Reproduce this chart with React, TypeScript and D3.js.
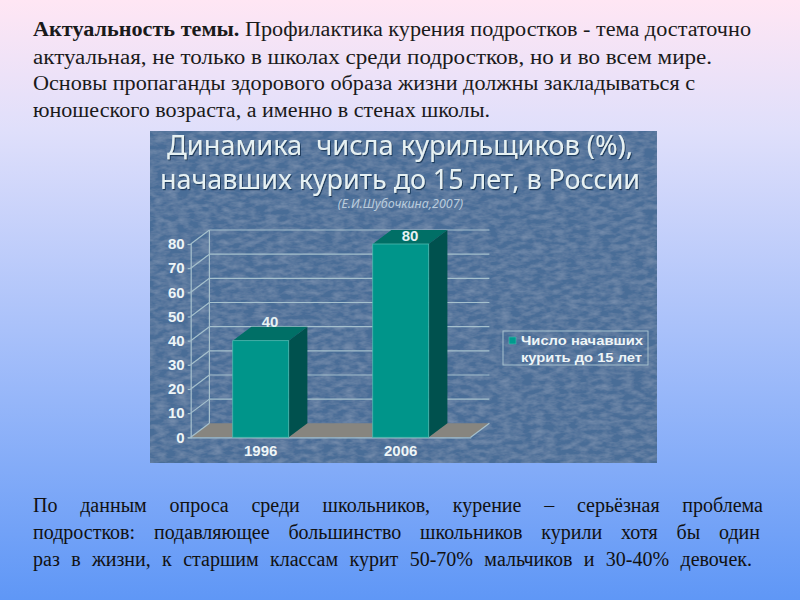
import React, { useEffect, useRef } from 'react';
import * as d3 from 'd3';

const years = ['1996', '2006'];
const smokers = [40, 80];
const yTicks = [0, 10, 20, 30, 40, 50, 60, 70, 80];

const titleLines = ['Динамика  числа курильщиков (%),', 'начавших курить до 15 лет, в России'];
const subtitle = '(Е.И.Шубочкина,2007)';
const legendLines = ['Число начавших', 'курить до 15 лет'];

const topBold = 'Актуальность темы.';
const topLines = [
  ' Профилактика курения подростков - тема достаточно',
  'актуальная, не только в школах среди подростков, но и во всем мире.',
  'Основы пропаганды здорового образа жизни должны закладываться с',
  'юношеского возраста, а именно в стенах школы.',
];
const bottomLines = [
  'По данным опроса среди школьников, курение – серьёзная проблема',
  'подростков: подавляющее большинство школьников курили хотя бы один',
  'раз в жизни, к старшим классам курит 50-70% мальчиков и 30-40% девочек.',
];

const topEnds = [751, 712, 695, 490];
const bottomEnds = [763, 760, 752];

export default function App() {
  const svgRef = useRef<SVGSVGElement>(null);

  useEffect(() => {
    if (!svgRef.current) return;
    const root = d3.select(svgRef.current);
    root.selectAll('*').remove();

    const defs = root.append('defs');
    const bg = defs.append('linearGradient').attr('id', 'bg').attr('x1', 0).attr('y1', 0).attr('x2', 0).attr('y2', 1);
    bg.append('stop').attr('offset', '0%').attr('stop-color', '#ffe6f4');
    bg.append('stop').attr('offset', '22%').attr('stop-color', '#dfdffb');
    bg.append('stop').attr('offset', '55%').attr('stop-color', '#a9c1fa');
    bg.append('stop').attr('offset', '100%').attr('stop-color', '#5f97f6');

    // Faint paper texture for the picture panel
    const texture = defs.append('filter').attr('id', 'texture').attr('x', 0).attr('y', 0).attr('width', 1).attr('height', 1);
    texture.append('feTurbulence').attr('type', 'fractalNoise').attr('baseFrequency', '0.09 0.2').attr('numOctaves', 3).attr('seed', 4).attr('result', 'n');
    texture.append('feColorMatrix').attr('in', 'n').attr('type', 'matrix')
      .attr('values', '0 0 0 0 0.6  0 0 0 0 0.7  0 0 0 0 0.82  0.35 0 0 0 -0.12').attr('result', 'c');
    texture.append('feComposite').attr('in', 'c').attr('in2', 'SourceGraphic').attr('operator', 'over');

    const shadow = defs.append('filter').attr('id', 'shadow').attr('x', '-5%').attr('y', '-20%').attr('width', '110%').attr('height', '140%');
    shadow.append('feDropShadow').attr('dx', 1).attr('dy', 1.2).attr('stdDeviation', 0.5).attr('flood-color', '#1c3a5c');

    root.append('rect').attr('width', 800).attr('height', 600).attr('fill', 'url(#bg)');

    // Slide text
    const serif = '"Liberation Serif", serif';
    const topBaselines = [36, 64, 90, 117];
    const bottomBaselines = [512, 539, 566];

    const line1 = root.append('text').attr('x', 33).attr('y', topBaselines[0])
      .attr('font-family', serif).attr('font-size', 20.5).attr('fill', '#1a1a1a');
    line1.append('tspan').attr('font-weight', 'bold').text(topBold);
    line1.append('tspan').attr('xml:space', 'preserve').text(topLines[0]);
    line1.attr('textLength', topEnds[0] - 33).attr('lengthAdjust', 'spacingAndGlyphs');

    topLines.slice(1).forEach((t, i) => {
      root.append('text').attr('x', 33).attr('y', topBaselines[i + 1])
        .attr('font-family', serif).attr('font-size', 20.5).attr('fill', '#1a1a1a')
        .attr('textLength', topEnds[i + 1] - 33).attr('lengthAdjust', 'spacingAndGlyphs')
        .text(t);
    });

    bottomLines.forEach((t, i) => {
      const line = root.append('text').attr('x', 33).attr('y', bottomBaselines[i])
        .attr('font-family', serif).attr('font-size', 20).attr('fill', '#111')
        .text(t);
      // justified: push the spare width into the word gaps
      const gaps = t.split(' ').length - 1;
      const used = (line.node() as SVGTextElement).getComputedTextLength();
      line.attr('word-spacing', (bottomEnds[i] - 33 - used) / gaps);
    });

    // Picture panel
    const panel = root.append('g');
    panel.append('rect').attr('x', 150).attr('y', 131).attr('width', 507).attr('height', 332)
      .attr('fill', '#4a6d97').attr('filter', 'url(#texture)');

    const sans = '"Noto Sans", "Open Sans", sans-serif';
    const titleBox = [
      { x: 167, w: 466, y: 155 },
      { x: 160, w: 480, y: 189 },
    ];
    titleLines.forEach((t, i) => {
      panel.append('text').attr('x', titleBox[i].x).attr('y', titleBox[i].y)
        .attr('font-family', sans).attr('font-size', 27).attr('fill', '#e6f1f3')
        .attr('filter', 'url(#shadow)')
        .attr('xml:space', 'preserve')
        .attr('textLength', titleBox[i].w).attr('lengthAdjust', 'spacingAndGlyphs')
        .text(t);
    });
    panel.append('text').attr('x', 400.5).attr('y', 208).attr('text-anchor', 'middle')
      .attr('font-family', sans).attr('font-style', 'italic').attr('font-size', 12.5)
      .attr('fill', '#b9cbdc').text(subtitle);

    // Chart
    const x0 = 190.7, x1 = 470.7;
    const depthX = 18.7, depthY = 14;
    const x = d3.scaleBand<string>().domain(years).range([x0, x1]).paddingInner(0.6).paddingOuter(0.3);
    const y = d3.scaleLinear().domain([0, 80]).range([437.3, 244]);
    const gridColor = '#a5c0cd';

    const chart = panel.append('g');
    const poly = (pts: number[][]) => pts.map(p => p.join(',')).join(' ');

    chart.append('polygon')
      .attr('points', poly([[x0, y(0)], [x1, y(0)], [x1 + depthX, y(0) - depthY], [x0 + depthX, y(0) - depthY]]))
      .attr('fill', '#87857f');

    chart.selectAll('.back').data(yTicks.slice(1)).enter().append('line').attr('class', 'back')
      .attr('x1', x0 + depthX).attr('x2', x1 + depthX)
      .attr('y1', d => y(d) - depthY).attr('y2', d => y(d) - depthY)
      .attr('stroke', gridColor).attr('stroke-width', 1.2);
    chart.selectAll('.wall').data(yTicks).enter().append('line').attr('class', 'wall')
      .attr('x1', x0).attr('x2', x0 + depthX)
      .attr('y1', d => y(d)).attr('y2', d => y(d) - depthY)
      .attr('stroke', gridColor).attr('stroke-width', 1.2);
    chart.append('line').attr('x1', x0 + depthX).attr('x2', x0 + depthX)
      .attr('y1', y(0) - depthY).attr('y2', y(80) - depthY).attr('stroke', gridColor).attr('stroke-width', 1.2);
    chart.append('line').attr('x1', x1).attr('x2', x1 + depthX)
      .attr('y1', y(0)).attr('y2', y(0) - depthY).attr('stroke', gridColor).attr('stroke-width', 1.2);

    // Axes
    const yAxis = chart.append('g').attr('transform', `translate(${x0},0)`)
      .call(d3.axisLeft(y).tickValues(yTicks).tickSize(3).tickPadding(3).tickFormat(d3.format('d')));
    yAxis.selectAll('line, path').attr('stroke', gridColor).attr('stroke-width', 1.2);
    yAxis.selectAll('text').attr('font-family', '"Liberation Sans", sans-serif')
      .attr('font-weight', 'bold').attr('font-size', 15).attr('fill', '#eef5f7');

    const xAxis = chart.append('g').attr('transform', `translate(0,${y(0)})`)
      .call(d3.axisBottom(x).tickSize(0).tickPadding(8));
    xAxis.select('path').attr('stroke', gridColor).attr('stroke-width', 1.2);
    xAxis.selectAll('text').attr('font-family', '"Liberation Sans", sans-serif')
      .attr('font-weight', 'bold').attr('font-size', 15).attr('fill', '#eef5f7');

    // 3D bars
    const bars = chart.selectAll('.bar').data(smokers).enter().append('g').attr('class', 'bar');
    const bx = (i: number) => x(years[i]) as number;
    const bw = x.bandwidth();
    bars.append('polygon')
      .attr('points', (d, i) => poly([[bx(i), y(d)], [bx(i) + bw, y(d)], [bx(i) + bw + depthX, y(d) - depthY], [bx(i) + depthX, y(d) - depthY]]))
      .attr('fill', '#006f66');
    bars.append('polygon')
      .attr('points', (d, i) => poly([[bx(i) + bw, y(d)], [bx(i) + bw + depthX, y(d) - depthY], [bx(i) + bw + depthX, y(0) - depthY], [bx(i) + bw, y(0)]]))
      .attr('fill', '#00514e');
    bars.append('rect')
      .attr('x', (d, i) => bx(i)).attr('y', d => y(d))
      .attr('width', bw).attr('height', d => y(0) - y(d))
      .attr('fill', '#00958a').attr('stroke', '#4fb9b0').attr('stroke-width', 0.8);

    // Value labels, held inside the plot top
    bars.append('text')
      .attr('x', (d, i) => bx(i) + bw / 2 + depthX / 2)
      .attr('y', d => Math.max(y(d) - 14, y(80) - 3))
      .attr('text-anchor', 'middle')
      .attr('font-family', '"Liberation Sans", sans-serif').attr('font-weight', 'bold')
      .attr('font-size', 15).attr('fill', '#e6f1f3')
      .text(d => d);

    // Legend
    const legend = panel.append('g');
    legend.append('rect').attr('x', 503).attr('y', 331).attr('width', 145).attr('height', 34)
      .attr('fill', 'none').attr('stroke', gridColor);
    legend.append('rect').attr('x', 509).attr('y', 337).attr('width', 7).attr('height', 7)
      .attr('fill', '#009a8e').attr('stroke', '#4fb9b0').attr('stroke-width', 0.6);
    legendLines.forEach((t, i) => {
      legend.append('text').attr('x', 521).attr('y', 345 + i * 16.5)
        .attr('font-family', '"Liberation Sans", sans-serif').attr('font-weight', 'bold')
        .attr('font-size', 13).attr('fill', '#eef5f7')
        .attr('textLength', i === 0 ? 122 : 121).attr('lengthAdjust', 'spacingAndGlyphs')
        .text(t);
    });
  }, []);

  return <svg ref={svgRef} width={800} height={600} style={{ position: 'absolute', left: 0, top: 0 }}></svg>;
}
